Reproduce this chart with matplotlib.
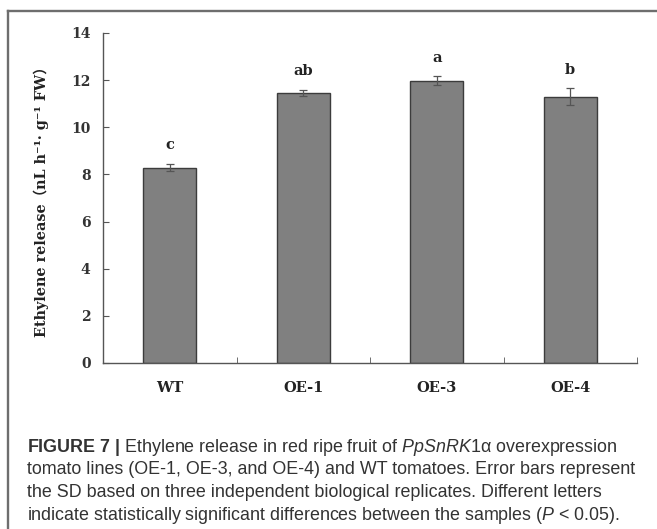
import matplotlib
matplotlib.use("Agg")
import matplotlib.pyplot as plt
from matplotlib.lines import Line2D
import numpy as np

# data
groups = ["WT", "OE-1", "OE-3", "OE-4"]
release = [8.29, 11.44, 11.97, 11.29]
sd = [0.14, 0.13, 0.19, 0.36]
letters = ["c", "ab", "a", "b"]
yticks = [0, 2, 4, 6, 8, 10, 12, 14]

plt.rcParams["mathtext.fontset"] = "custom"
plt.rcParams["mathtext.rm"] = "Liberation Sans"
plt.rcParams["mathtext.it"] = "Liberation Sans:italic"
plt.rcParams["mathtext.bf"] = "Liberation Sans:bold"

serif = ["DejaVu Serif", "Noto Sans CJK SC"]

fig = plt.figure(figsize=(6.57, 5.29), dpi=100)
ax = fig.add_axes([103/657, 1-363/529, 534/657, 330/529])

x = np.arange(len(groups))
ax.bar(x, release, width=0.4, color="#808080", edgecolor="#3c3c3c", linewidth=1.0, zorder=2)
ax.errorbar(x, release, yerr=sd, fmt="none", ecolor="#555555", elinewidth=0.9,
            capsize=3, capthick=0.9, zorder=3)
for xi, v, s, l in zip(x, release, sd, letters):
    ax.text(xi, v+s+0.8, l, ha="center", va="center", fontsize=10.5,
            fontweight="bold", family=serif, color="#222222")

ax.set_xlim(-0.5, 3.5)
ax.set_ylim(0, 14)
ax.set_yticks(yticks)
ax.set_yticklabels([str(t) for t in yticks], fontsize=10, fontweight="bold",
                   family=serif, color="#333333")
ax.set_xticks(x)
ax.set_xticklabels(groups, fontsize=10.5, fontweight="bold", family=serif, color="#222222")
ax.set_xticks(np.arange(len(groups))+0.5, minor=True)
ax.tick_params(axis="x", which="major", length=0, pad=13)
ax.tick_params(axis="x", which="minor", direction="in", length=4, color="#555555")
ax.tick_params(axis="y", direction="in", length=4, color="#555555", pad=9)
for s in ["top", "right"]:
    ax.spines[s].set_visible(False)
for s in ["left", "bottom"]:
    ax.spines[s].set_color("#555555")
    ax.spines[s].set_linewidth(1.0)

ax.set_ylabel("Ethylene release（nL h⁻¹· g⁻¹ FW）", fontsize=10.4, fontweight="bold",
              family=serif, color="#222222", labelpad=16)

# frame around the figure panel (top and left edges)
fig.add_artist(Line2D([8/657, 1], [1-10.5/529, 1-10.5/529], color="#6e6e6e", linewidth=1.7))
fig.add_artist(Line2D([8/657, 8/657], [0, 1-10.5/529], color="#6e6e6e", linewidth=1.7))

caption = [
    r"$\mathbf{FIGURE\ 7\ |}$ Ethylene release in red ripe fruit of $\mathit{PpSnRK1}$α overexpression",
    "tomato lines (OE-1, OE-3, and OE-4) and WT tomatoes. Error bars represent",
    "the SD based on three independent biological replicates. Different letters",
    r"indicate statistically significant differences between the samples ($\mathit{P}$ < 0.05).",
]
for i, line in enumerate(caption):
    fig.text(27/657, 1-(447+22.7*i)/529, line, fontsize=12.9, family="Liberation Sans",
             color="#333333", va="center", ha="left")

fig.savefig("out.png", dpi=100)
